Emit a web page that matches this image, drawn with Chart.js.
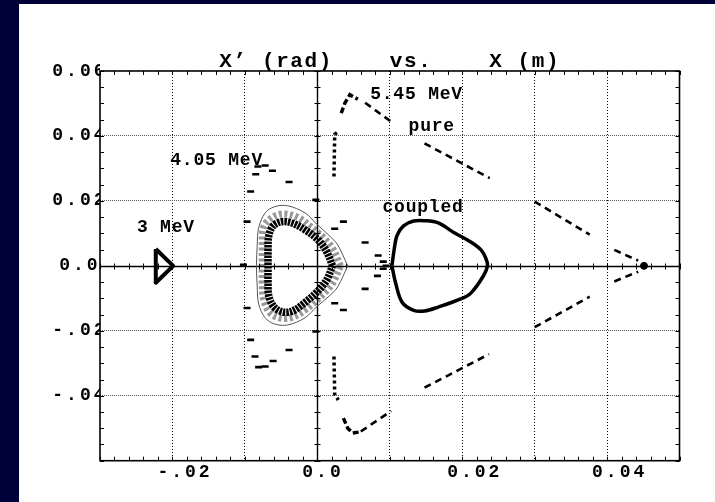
<!DOCTYPE html>
<html><head><meta charset="utf-8">
<script src="https://cdn.jsdelivr.net/npm/chart.js@4"></script>
<style>
html,body{margin:0;padding:0;background:#000038;width:715px;height:502px;overflow:hidden}
#wrap{position:absolute;left:19px;top:4px;width:696px;height:498px;background:#fff}
canvas{display:block}
</style></head><body><div id="wrap"><canvas id="c" width="696" height="498"></canvas></div>
<script>
// ---- axes / ticks ----
const xTickValues = [-0.03,-0.02,-0.01,0,0.01,0.02,0.03,0.04,0.05];
const xTickLabels = ['','-.02','','0.0','','0.02','','0.04',''];
const yTickValues = [-0.06,-0.04,-0.02,0,0.02,0.04,0.06];
const yTickLabels = ['','-.04','-.02','0.0','0.02','0.04','0.06'];
const titleText = 'X\u2019 (rad)    vs.    X (m)';

// ---- 3 MeV (small triangle) ----
const mev3X = [-0.0223,-0.0199,-0.0223,-0.0223];
const mev3Y = [0.0052,0.0,-0.0052,0.0052];

// ---- 4.05 MeV scattered turns ----
const mev4X = [-0.0082,-0.0072,-0.0085,-0.0062,-0.0039,-0.0092,-0.0097,-0.0002,-0.0102,-0.0097,-0.0092,-0.0086,-0.0081,-0.0072,-0.0061,-0.0039,-0.0002,0.0024,0.0036,0.0066,0.0084,0.0091,0.0095,0.0091,0.0083,0.0066,0.0036,0.0024];
const mev4Y = [0.0306,0.0309,0.0282,0.0293,0.0258,0.0229,0.0136,0.0203,0.0003,-0.0130,-0.0228,-0.0279,-0.0312,-0.0310,-0.0293,-0.0259,-0.0202,0.0114,0.0136,0.0072,0.0032,0.0013,0.0,-0.0009,-0.0031,-0.0071,-0.0136,-0.0115];

// ---- 4.05 MeV coupled band (dense ring) ----
const ringOuterX = [0.0042,0.0028,0.0017,-0.0001,-0.0017,-0.0041,-0.0059,-0.0072,-0.0081,-0.0083,-0.0084,-0.0083,-0.0081,-0.0072,-0.0059,-0.0041,-0.0017,-0.0001,0.0017,0.0028,0.0042];
const ringOuterY = [0,0.0065,0.0092,0.0129,0.0163,0.0185,0.0182,0.0163,0.0117,0.0062,0,-0.0062,-0.0117,-0.0160,-0.0179,-0.0182,-0.0160,-0.0126,-0.0092,-0.0065,0];
const ringMidX = [0.0032,0.0021,0.0009,-0.0009,-0.0026,-0.0045,-0.0060,-0.0074,-0.0076,-0.0076,-0.0076,-0.0074,-0.0066,-0.0053,-0.0037,-0.0017,0.0009,0.0021,0.0032];
const ringMidY = [0,0.0054,0.0086,0.0120,0.0148,0.0160,0.0152,0.0120,0.0055,0,-0.0055,-0.0105,-0.0143,-0.0160,-0.0160,-0.0136,-0.0085,-0.0054,0];
const ringInnerX = [0.0021,0.0013,0.0001,-0.0017,-0.0035,-0.0049,-0.0061,-0.0067,-0.0068,-0.0068,-0.0068,-0.0067,-0.0060,-0.0048,-0.0034,-0.0016,0.0001,0.0013,0.0021];
const ringInnerY = [0,0.0043,0.0080,0.0111,0.0132,0.0136,0.0123,0.0092,0.0049,0,-0.0049,-0.0092,-0.0126,-0.0142,-0.0139,-0.0111,-0.0077,-0.0043,0];

// ---- 5.45 MeV coupled ----
const coupledX = [0.0103,0.0106,0.0110,0.0119,0.0133,0.0148,0.0167,0.0189,0.0210,0.0226,0.0233,0.0235,0.0229,0.0212,0.0198,0.0167,0.0148,0.0133,0.0117,0.0108,0.0103];
const coupledY = [0.0,0.0049,0.0093,0.0123,0.0138,0.0139,0.0132,0.0102,0.0076,0.0049,0.0021,0.0,-0.0032,-0.0084,-0.0102,-0.0127,-0.0139,-0.0137,-0.0112,-0.0052,0.0];

// ---- 5.45 MeV pure ----
const pureDiagX = [0.0066,0.0102,null,0.0148,0.0238,null,0.0300,0.0376,null,0.0410,0.0443,null,0.0410,0.0443,null,0.0300,0.0376,null,0.0148,0.0237,null,0.0060,0.0102];
const pureDiagY = [0.0502,0.0444,null,0.0377,0.0270,null,0.0198,0.0096,null,0.0049,0.0016,null,-0.0048,-0.0018,null,-0.0189,-0.0095,null,-0.0375,-0.0272,null,-0.0510,-0.0447];
const pureHookX = [0.0033,0.0038,0.0045,0.0056,null,0.0036,0.0042,0.0049,0.0057];
const pureHookY = [0.0470,0.0501,0.0527,0.0513,null,-0.0469,-0.0500,-0.0515,-0.0512];
const pureVertX = [0.0023,0.0024,0.0029,null,0.0023,0.0024,0.0029];
const pureVertY = [0.0275,0.0405,0.0413,null,-0.0279,-0.0395,-0.0413];
const pureDotX = [0.0451];
const pureDotY = [0.0];

// ---- annotation labels ----
const labelTexts = ['3 MeV','4.05 MeV','5.45 MeV','pure','coupled'];
const labelX = [-0.0209,-0.0139,0.0137,0.0158,0.0146];
const labelY = [0.0104,0.0309,0.0513,0.0414,0.0166];

const pts = (xs, ys) => xs.map((x, i) => ({x: x, y: ys[i]}));
const FAM = '"Liberation Mono", "Courier New", monospace';

const lineDs = (xs, ys, extra) => Object.assign({
  data: pts(xs, ys), showLine: true, pointRadius: 0, fill: false,
  borderColor: '#000', borderWidth: 3, spanGaps: false
}, extra);

const decor = {
  id: 'decor',
  beforeUpdate(chart) { chart.ctx.letterSpacing = '3px'; },
  beforeDraw(chart) { chart.ctx.letterSpacing = '1.6px'; },
  beforeDatasetsDraw(chart) {
    const {ctx, chartArea: a, scales: {x, y}} = chart;
    ctx.save();
    ctx.strokeStyle = '#000';
    ctx.setLineDash([]);
    const x0 = Math.round(x.getPixelForValue(0)) + 0.5;
    const y0 = Math.round(y.getPixelForValue(0)) + 0.5;
    ctx.lineWidth = 1.4;
    ctx.beginPath();
    ctx.moveTo(x0, a.top); ctx.lineTo(x0, a.bottom);
    ctx.moveTo(a.left, y0); ctx.lineTo(a.right, y0);
    ctx.stroke();
    ctx.lineWidth = 1;
    ctx.beginPath();
    for (let k = -15; k <= 25; k++) {
      const px = Math.round(x.getPixelForValue(k * 0.002)) + 0.5;
      ctx.moveTo(px, a.bottom); ctx.lineTo(px, a.bottom - 4);
      ctx.moveTo(px, a.top); ctx.lineTo(px, a.top + 4);
      ctx.moveTo(px, y0 - 3); ctx.lineTo(px, y0 + 3);
    }
    for (let k = -12; k <= 12; k++) {
      const py = Math.round(y.getPixelForValue(k * 0.005)) + 0.5;
      ctx.moveTo(a.left, py); ctx.lineTo(a.left + 4, py);
      ctx.moveTo(a.right, py); ctx.lineTo(a.right - 4, py);
      ctx.moveTo(x0 - 3, py); ctx.lineTo(x0 + 3, py);
    }
    ctx.stroke();
    ctx.lineWidth = 1.6;
    ctx.strokeRect(a.left, a.top, a.right - a.left, a.bottom - a.top);
    ctx.restore();
    ctx.letterSpacing = '3px';
  },
  afterDatasetsDraw(chart) {
    const {ctx, scales: {x, y}} = chart;
    ctx.save();
    ctx.letterSpacing = '0.8px';
    ctx.fillStyle = '#000';
    ctx.font = 'bold 18px ' + FAM;
    ctx.textAlign = 'center';
    ctx.textBaseline = 'alphabetic';
    labelTexts.forEach((t, i) => {
      ctx.fillText(t, x.getPixelForValue(labelX[i]), y.getPixelForValue(labelY[i]));
    });
    ctx.restore();
    ctx.letterSpacing = '3px';
  }
};

const isInterior = (v, lo, hi) => Math.abs(v - lo) > 1e-9 && Math.abs(v - hi) > 1e-9 && Math.abs(v) > 1e-9;

new Chart(document.getElementById('c'), {
  type: 'scatter',
  data: {
    datasets: [
      lineDs(ringOuterX, ringOuterY, {borderWidth: 1, borderColor: '#555', tension: 0.35}),
      lineDs(ringMidX, ringMidY, {borderWidth: 7, borderColor: 'rgba(0,0,0,0.4)', borderDash: [3, 2.5], tension: 0.35}),
      lineDs(ringInnerX, ringInnerY, {borderWidth: 7.5, borderColor: '#000', borderDash: [2.5, 1], tension: 0.35}),
      {data: pts(mev4X, mev4Y), pointStyle: 'line', pointRadius: 3.5, pointBorderWidth: 2.6, pointBorderColor: '#000', borderColor: '#000', showLine: false},
      lineDs(mev3X, mev3Y, {borderWidth: 4, borderJoinStyle: 'round'}),
      lineDs(coupledX, coupledY, {borderWidth: 3.5, tension: 0.35, borderJoinStyle: 'round'}),
      lineDs(pureDiagX, pureDiagY, {borderWidth: 2.6, borderDash: [7, 5]}),
      lineDs(pureHookX, pureHookY, {borderWidth: 3.5, borderDash: [6, 3]}),
      lineDs(pureVertX, pureVertY, {borderWidth: 3.5, borderDash: [3, 3]}),
      {data: pts(pureDotX, pureDotY), pointStyle: 'circle', pointRadius: 3.5, pointBackgroundColor: '#000', pointBorderColor: '#000', showLine: false}
    ]
  },
  options: {
    responsive: false, animation: false, devicePixelRatio: 1,
    layout: {padding: {left: 0, right: 35.5, top: 0, bottom: 0}},
    plugins: {
      legend: {display: false}, tooltip: {enabled: false},
      title: {display: true, text: titleText, fullSize: false, color: '#000',
        font: {family: FAM, size: 21, weight: 'bold', lineHeight: 0.88},
        padding: {top: 48.5, bottom: 0}}
    },
    scales: {
      x: {
        type: 'linear', min: -0.03, max: 0.05,
        afterBuildTicks: s => { s.ticks = xTickValues.map(v => ({value: v})); },
        afterFit: s => { s.height = 41.3; },
        ticks: {autoSkip: false, maxRotation: 0, minRotation: 0, align: 'start', labelOffset: -15, padding: 1, z: 1,
          color: '#000', font: {family: FAM, size: 18, weight: 'bold'},
          callback: (v, i) => xTickLabels[i]},
        grid: {drawTicks: false, lineWidth: 1,
          color: c => (c.tick && isInterior(c.tick.value, -0.03, 0.05)) ? '#000' : 'rgba(0,0,0,0)'},
        border: {display: false, dash: [1, 2]}
      },
      y: {
        type: 'linear', min: -0.06, max: 0.06,
        afterBuildTicks: s => { s.ticks = yTickValues.map(v => ({value: v})); },
        afterFit: s => { s.width = 81; },
        ticks: {autoSkip: false, crossAlign: 'center', padding: -7.5, z: 1,
          color: '#000', font: {family: FAM, size: 18, weight: 'bold'},
          callback: (v, i) => yTickLabels[i]},
        grid: {drawTicks: false, lineWidth: 1,
          color: c => (c.tick && isInterior(c.tick.value, -0.06, 0.06)) ? '#555' : 'rgba(0,0,0,0)'},
        border: {display: false, dash: [1, 1]}
      }
    }
  },
  plugins: [decor]
});
</script></body></html>
